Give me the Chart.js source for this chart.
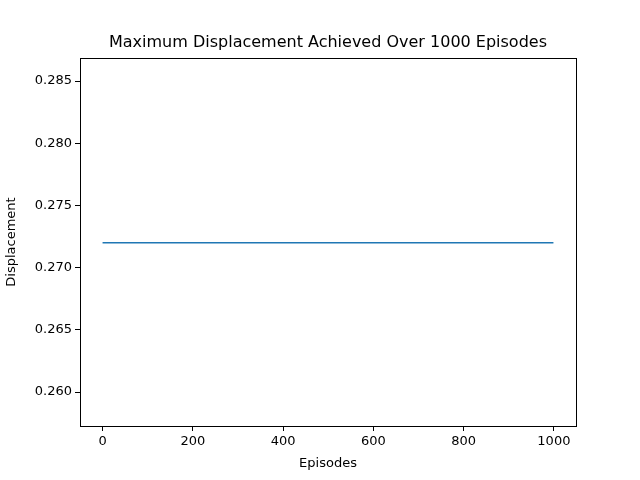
<!DOCTYPE html>
<html>
<head>
<meta charset="utf-8">
<script src="https://cdn.jsdelivr.net/npm/chart.js@4"></script>
<style>
  html, body { margin: 0; padding: 0; background: #fff; }
  #wrap { width: 640px; height: 480px; }
</style>
</head>
<body>
<div id="wrap"><canvas id="chart" width="640" height="480"></canvas></div>
<script>
// Data: constant max displacement across episodes
const episodes = [0, 999];
const displacement = [0.272, 0.272];
const xTicks = [0, 200, 400, 600, 800, 1000];
const yTicks = [0.260, 0.265, 0.270, 0.275, 0.280, 0.285];
const titleText = 'Maximum Displacement Achieved Over 1000 Episodes';

const font = { family: 'DejaVu Sans', size: 13 };

// frame around the plot area plus title centred over it (matplotlib style)
const frame = {
    id: 'frame',
    afterDraw(chart) {
        const { ctx, chartArea: a } = chart;
        ctx.save();
        ctx.strokeStyle = '#000';
        ctx.lineWidth = 1;
        ctx.strokeRect(a.left + 0.5, a.top + 0.5, a.right - a.left, a.bottom - a.top);
        ctx.fillStyle = '#000';
        ctx.font = '16px "DejaVu Sans"';
        ctx.textAlign = 'center';
        ctx.textBaseline = 'middle';
        ctx.fillText(titleText, (a.left + a.right) / 2, 43);
        ctx.restore();
    }
};

new Chart(document.getElementById('chart').getContext('2d'), {
    type: 'line',
    data: {
        datasets: [{
            data: episodes.map((e, i) => ({ x: e, y: displacement[i] })),
            borderColor: '#1f77b4',
            borderWidth: 1.5,
            pointRadius: 0,
            tension: 0
        }]
    },
    options: {
        responsive: false,
        animation: false,
        layout: { padding: { left: 0, right: 64, top: 58, bottom: 9 } },
        plugins: {
            legend: { display: false },
            tooltip: { enabled: false },
            title: { display: false }
        },
        scales: {
            x: {
                type: 'linear',
                min: -50,
                max: 1049,
                afterBuildTicks: s => { s.ticks = xTicks.map(v => ({ value: v })); },
                afterFit: s => { s.height = 45; },
                ticks: { color: '#000', font, padding: 3, maxRotation: 0, callback: v => String(v) },
                grid: { drawOnChartArea: false, tickLength: 5, color: '#000' },
                border: { color: '#000' },
                title: { display: true, text: 'Episodes', color: '#000', font, padding: 0 }
            },
            y: {
                min: 0.25727,
                max: 0.28685,
                afterBuildTicks: s => { s.ticks = yTicks.map(v => ({ value: v })); },
                afterFit: s => { s.width = 80; },
                ticks: { color: '#000', font, padding: 3, callback: v => v.toFixed(3) },
                grid: { drawOnChartArea: false, tickLength: 5, color: '#000' },
                border: { color: '#000' },
                title: { display: true, text: 'Displacement', color: '#000', font, padding: 4 }
            }
        }
    },
    plugins: [frame]
});
</script>
</body>
</html>
